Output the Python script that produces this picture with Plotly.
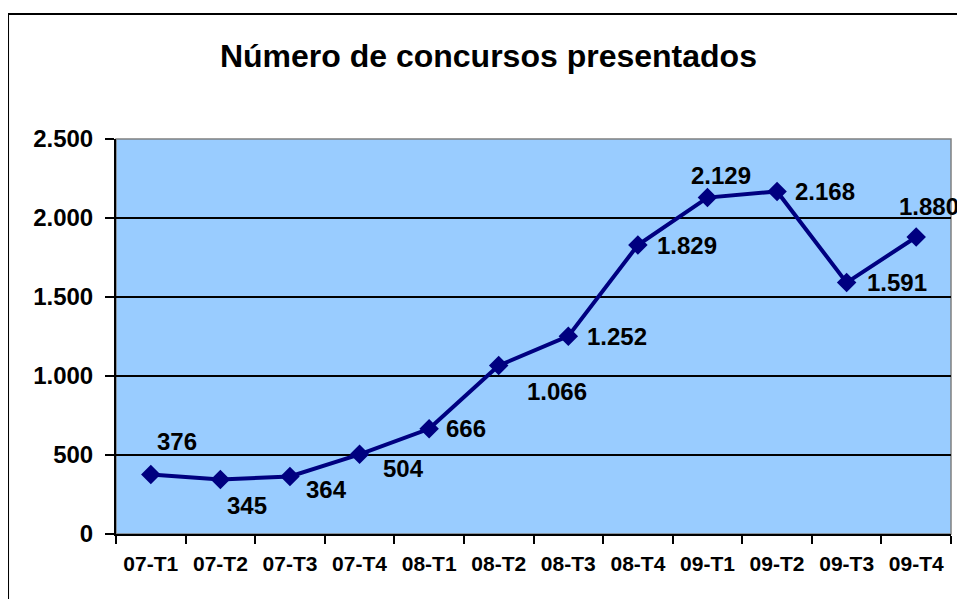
import plotly.graph_objects as go

# data
trimestres = ['07-T1', '07-T2', '07-T3', '07-T4', '08-T1', '08-T2',
              '08-T3', '08-T4', '09-T1', '09-T2', '09-T3', '09-T4']
concursos = [376, 345, 364, 504, 666, 1066, 1252, 1829, 2129, 2168, 1591, 1880]
y_ticks = [0, 500, 1000, 1500, 2000, 2500]

# label offsets in pixels (x, y-up), mimicking the Excel placement
label_shift = [(26, 33), (27, -26), (37, -13), (44, -14), (37, 0), (58, -26),
               (49, 0), (49, 0), (14, 22), (48, 0), (50, 0), (13, 30)]

def fmt(v):
    return f"{v:,}".replace(",", ".")

FONT = "Liberation Sans, Arial, sans-serif"

# the page adds an 8px body margin, so the figure is drawn 8px smaller
W, H = 957, 591

fig = go.Figure()
fig.add_trace(go.Scatter(
    x=trimestres, y=concursos,
    mode='lines+markers',
    line=dict(color='#000080', width=4),
    marker=dict(symbol='diamond', size=15, color='#000080'),
    hoverinfo='x+y',
    showlegend=False,
))

for cat, val, (dx, dy) in zip(trimestres, concursos, label_shift):
    fig.add_annotation(x=cat, y=val, text=f"<b>{fmt(val)}</b>", showarrow=False,
                       xshift=dx, yshift=dy,
                       font=dict(family=FONT, size=24, color='black'))

# outer chart border
fig.add_shape(type='rect', xref='paper', yref='paper',
              x0=-0.1293, x1=1.2, y0=-0.4, y1=1.3165,
              line=dict(color='black', width=2), layer='below')

fig.update_layout(
    width=W, height=H,
    margin=dict(l=108, r=14, t=131, b=65),
    paper_bgcolor='white',
    plot_bgcolor='#99CCFF',
    title=dict(text='<b>Número de concursos presentados</b>',
               x=0.502, xanchor='center', y=1 - 48 / H, yanchor='middle',
               yref='container',
               font=dict(family=FONT, size=32, color='black')),
    xaxis=dict(
        type='category',
        tickson='boundaries',
        ticks='outside', ticklen=8, tickcolor='black', tickwidth=1.5,
        showline=True, linecolor='black', linewidth=2,
        showgrid=False, mirror=False,
        tickfont=dict(family=FONT, size=21, color='black'),
        tickprefix='<b>', ticksuffix='</b>',
        ticklabelstandoff=10,
        range=[-0.5, 11.5],
    ),
    yaxis=dict(
        range=[0, 2500],
        tickvals=y_ticks,
        ticktext=[f"<b>{fmt(v)}</b>" for v in y_ticks],
        ticks='outside', ticklen=9, tickcolor='black', tickwidth=1.5,
        showline=True, linecolor='black', linewidth=2,
        showgrid=True, gridcolor='black', gridwidth=1.5,
        zeroline=False,
        ticklabelstandoff=7,
        tickfont=dict(family=FONT, size=24, color='black'),
    ),
)

# thin grey frame on top/right of plot area
fig.add_shape(type='rect', xref='paper', yref='paper', x0=0, x1=1, y0=0, y1=1,
              line=dict(color='#808080', width=1.5), layer='below')

fig.write_html("out.html")
